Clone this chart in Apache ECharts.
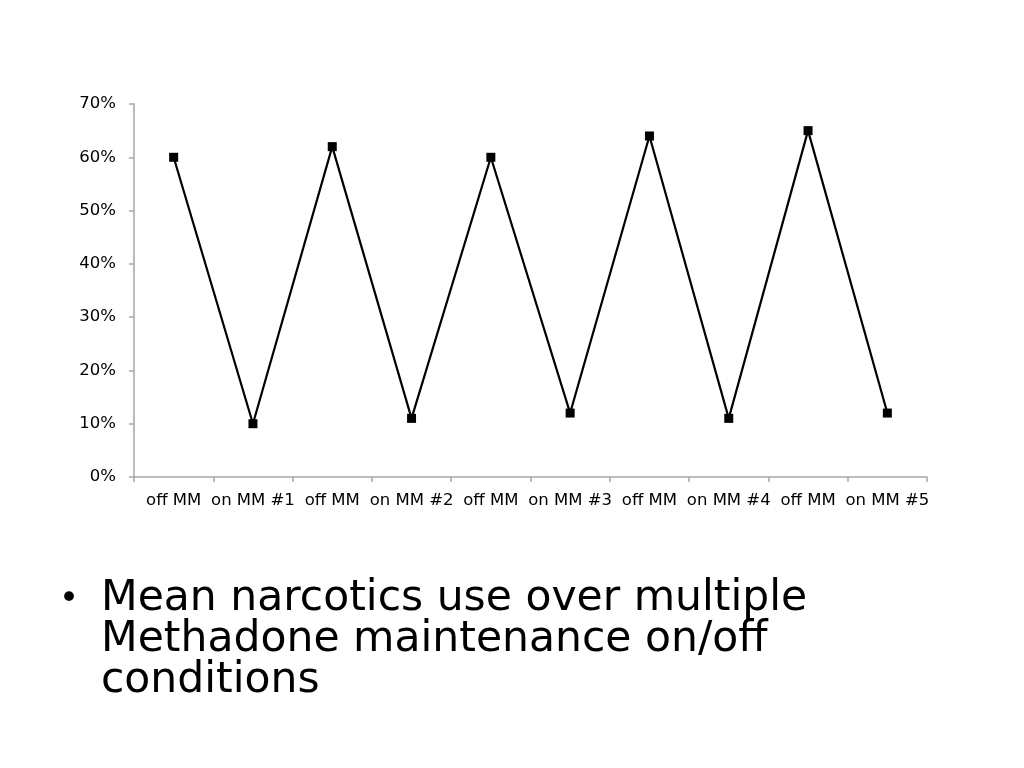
<!DOCTYPE html>
<html lang="en">
<head>
    <meta charset="UTF-8">
    <title>Mean narcotics use</title>
    <script src="https://cdn.jsdelivr.net/npm/echarts@6/dist/echarts.min.js"></script>
    <style>
        html, body { margin: 0; padding: 0; background: #fff; }
        #chart { width: 1024px; height: 768px; }
    </style>
</head>
<body>
    <div id="chart"></div>
<script>
    // phases of the study, in order
    let categories = ['off MM', 'on MM #1', 'off MM', 'on MM #2', 'off MM', 'on MM #3', 'off MM', 'on MM #4', 'off MM', 'on MM #5'];
    // mean narcotics use, percent
    let useValues = [60, 10, 62, 11, 60, 12, 64, 11, 65, 12];
    let yTicks = [0, 10, 20, 30, 40, 50, 60, 70];
    let bulletLines = ['Mean narcotics use over multiple', 'Methadone maintenance on/off', 'conditions'];

    let font = '"DejaVu Sans", Verdana, sans-serif';
    let axisGray = '#a6a6a6';

    var myChart = echarts.init(document.getElementById('chart'));

    option = {
        animation: false,
        grid: {
            left: 134,
            right: 97,
            top: 104,
            bottom: 291,
            containLabel: false
        },
        xAxis: {
            type: 'category',
            data: categories,
            boundaryGap: true,
            axisLine: { lineStyle: { color: axisGray, width: 1.5 } },
            axisTick: { show: true, length: 5, alignWithLabel: false, lineStyle: { color: axisGray, width: 1.5 } },
            axisLabel: { interval: 0, margin: 15, color: '#000', fontSize: 16.5, fontFamily: font },
            splitLine: { show: false }
        },
        yAxis: {
            type: 'value',
            min: yTicks[0],
            max: yTicks[yTicks.length - 1],
            interval: 10,
            axisLine: { show: true, lineStyle: { color: axisGray, width: 1.5 } },
            axisTick: { show: true, length: 5, lineStyle: { color: axisGray, width: 1.5 } },
            axisLabel: { margin: 18, color: '#000', fontSize: 16.5, fontFamily: font, formatter: '{value}%' },
            splitLine: { show: false }
        },
        series: [{
            type: 'line',
            data: useValues,
            symbol: 'rect',
            symbolSize: 9,
            lineStyle: { color: '#000', width: 2.2 },
            itemStyle: { color: '#000' }
        }],
        graphic: [{
            type: 'text',
            left: 59,
            top: 583,
            style: { text: '•', font: '34px ' + font, fill: '#000' }
        }, {
            type: 'text',
            left: 101,
            top: 577,
            style: {
                text: bulletLines.join('\n'),
                font: '42.5px ' + font,
                lineHeight: 41,
                fill: '#000'
            }
        }]
    };

    myChart.setOption(option);
    window.addEventListener('resize', function () {
        myChart.resize();
    });
</script>
</body>
</html>
